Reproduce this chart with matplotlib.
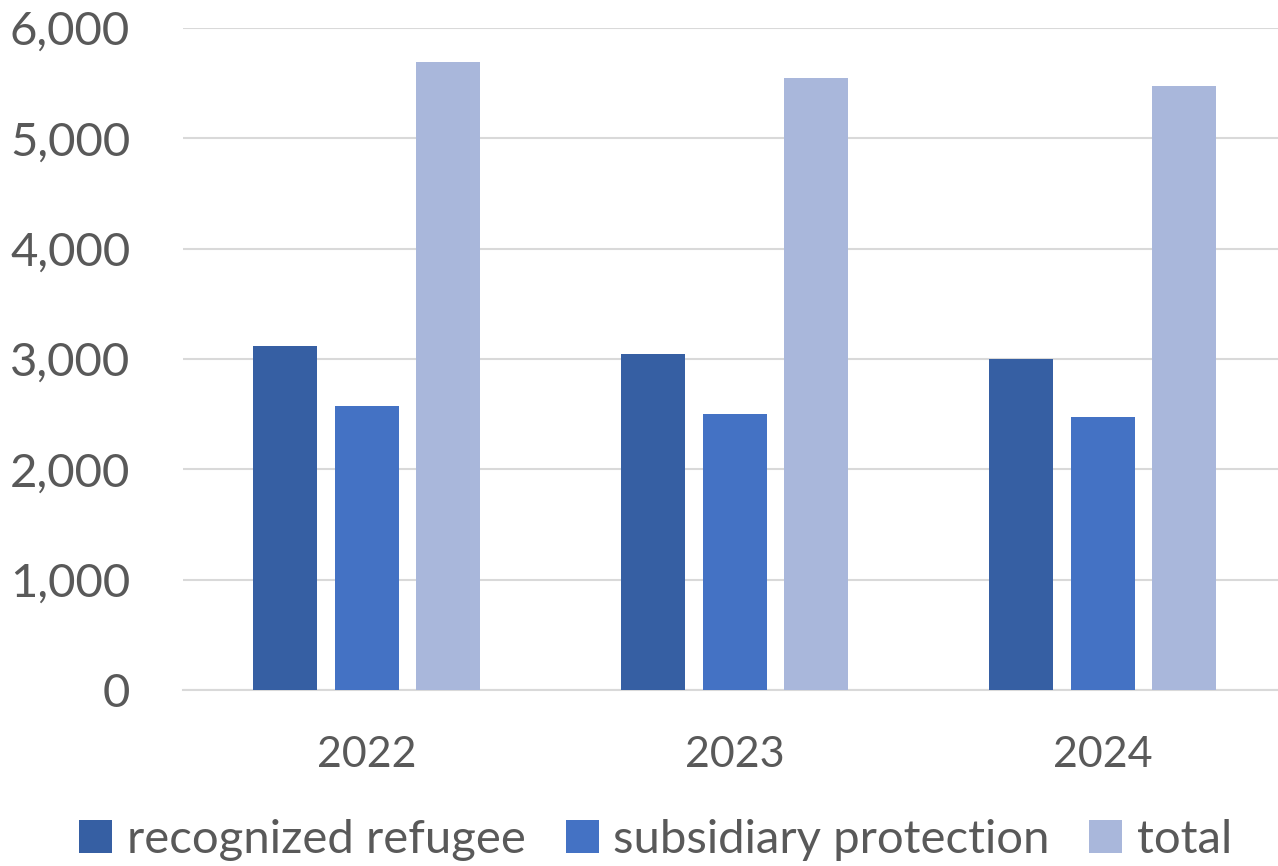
import matplotlib
matplotlib.use("Agg")
import matplotlib.pyplot as plt
import numpy as np
from matplotlib.ticker import FuncFormatter

years = ["2022", "2023", "2024"]
series_names = ["recognized refugee", "subsidiary protection", "total"]
recognized_refugee = [3120, 3045, 2997]
subsidiary_protection = [2570, 2500, 2475]
total = [5690, 5545, 5472]
colors = ["#365FA3", "#4472C4", "#A9B7DB"]

plt.rcParams['font.family'] = ['Lato', 'DejaVu Sans']
text_color = "#595959"

fig = plt.figure(figsize=(12.78, 8.66), dpi=100)
ax = fig.add_axes([183/1278, (866-690)/866, 1095/1278, 662/866])

x = np.arange(len(years))
width = 0.174
step = 0.2215
for i, (vals, name, c) in enumerate(zip([recognized_refugee, subsidiary_protection, total], series_names, colors)):
    ax.bar(x + (i - 1) * step, vals, width=width, color=c, label=name, zorder=3)

ax.set_xlim(-0.5, 2.476)
ax.set_ylim(0, 6000)
ax.set_yticks(np.arange(0, 6001, 1000))
ax.yaxis.set_major_formatter(FuncFormatter(lambda v, p: f"{int(v):,}"))
ax.set_xticks(x)
ax.set_xticklabels(years)
ax.grid(axis='y', color="#D9D9D9", linewidth=1.5, zorder=0)
for s in ["top", "right", "left"]:
    ax.spines[s].set_visible(False)
ax.spines["bottom"].set_color("#D9D9D9")
ax.spines["bottom"].set_linewidth(1.5)
ax.tick_params(axis='y', length=0, pad=38, labelsize=34, labelcolor=text_color)
ax.tick_params(axis='x', length=0, pad=33, labelsize=31, labelcolor=text_color)

leg = fig.legend(loc="lower center", bbox_to_anchor=(0.513, -0.043), ncol=3, frameon=False,
                 fontsize=34, handlelength=0.7, handleheight=0.7, handletextpad=0.3,
                 columnspacing=0.85, labelcolor=text_color)

fig.savefig("out.png", dpi=100)
